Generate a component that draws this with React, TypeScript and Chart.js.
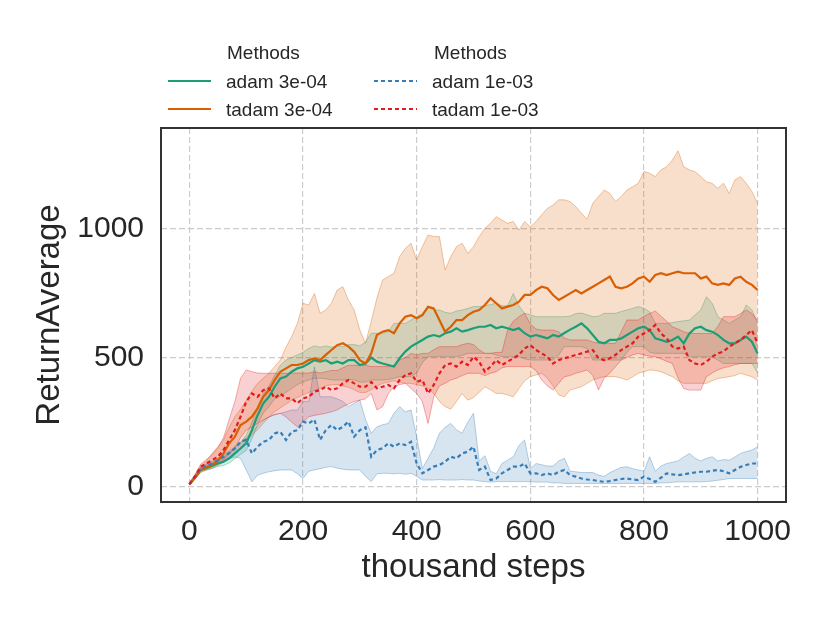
import { useEffect, useRef } from "react";
import { Chart, registerables } from "chart.js";

Chart.register(...registerables);

// thousand steps
const steps = [
  0, 10, 20, 30, 40, 50, 60, 70, 80, 90,
  100, 110, 120, 130, 140, 150, 160, 170, 180, 190,
  200, 210, 220, 230, 240, 250, 260, 270, 280, 290,
  300, 310, 320, 330, 340, 350, 360, 370, 380, 390,
  400, 410, 420, 430, 440, 450, 460, 470, 480, 490,
  500, 510, 520, 530, 540, 550, 560, 570, 580, 590,
  600, 610, 620, 630, 640, 650, 660, 670, 680, 690,
  700, 710, 720, 730, 740, 750, 760, 770, 780, 790,
  800, 810, 820, 830, 840, 850, 860, 870, 880, 890,
  900, 910, 920, 930, 940, 950, 960, 970, 980, 990,
  1000,
];

// adam 3e-04
const adam3Mean = [
  10, 36, 65, 72, 80, 90, 97, 110, 129, 148,
  168, 219, 277, 323, 348, 387, 419, 426, 445, 458,
  464, 477, 490, 484, 490, 477, 484, 477, 490, 490,
  471, 477, 500, 484, 477, 471, 465, 497, 523, 542,
  555, 568, 581, 587, 581, 594, 600, 613, 600, 606,
  613, 619, 619, 626, 613, 619, 613, 606, 613, 594,
  581, 587, 581, 574, 587, 581, 595, 608, 619, 632,
  613, 587, 561, 555, 568, 568, 574, 587, 600, 613,
  619, 606, 574, 568, 561, 568, 581, 555, 593, 613,
  619, 606, 600, 587, 568, 555, 555, 568, 581, 561,
  516,
];
const adam3Upper = [
  14, 42, 72, 82, 92, 105, 115, 130, 150, 172,
  200, 250, 310, 360, 390, 430, 470, 490, 500, 510,
  520, 535, 545, 540, 545, 540, 545, 542, 550, 550,
  545, 560, 594, 594, 594, 600, 632, 632, 632, 645,
  658, 670, 696, 684, 684, 675, 671, 680, 684, 690,
  697, 697, 700, 705, 710, 700, 700, 748, 700, 671,
  665, 658, 658, 658, 658, 658, 658, 660, 670, 672,
  665, 658, 660, 671, 671, 671, 678, 684, 690, 697,
  690, 677, 632, 632, 632, 635, 639, 642, 645, 665,
  684, 735, 710, 658, 645, 632, 645, 658, 703, 684,
  632,
];
const adam3Lower = [
  6, 30, 58, 64, 70, 78, 82, 92, 108, 125,
  140, 185, 240, 285, 310, 340, 350, 365, 380, 395,
  405, 413, 420, 420, 418, 413, 413, 413, 415, 413,
  405, 405, 413, 413, 413, 415, 420, 426, 426, 426,
  440, 480, 503, 503, 503, 503, 503, 503, 508, 516,
  516, 516, 516, 516, 510, 503, 503, 503, 503, 495,
  490, 490, 490, 490, 490, 510, 542, 542, 542, 542,
  535, 490, 490, 490, 490, 490, 490, 520, 542, 542,
  542, 520, 516, 516, 516, 516, 516, 516, 503, 503,
  503, 503, 503, 490, 477, 477, 477, 477, 477, 477,
  440,
];

// tadam 3e-04
const tadam3Mean = [
  10, 36, 65, 75, 84, 100, 129, 168, 194, 239,
  252, 271, 303, 348, 374, 413, 445, 458, 471, 471,
  477, 490, 497, 490, 510, 529, 548, 555, 542, 522,
  490, 477, 516, 587, 600, 606, 594, 632, 658, 664,
  652, 664, 696, 690, 645, 600, 619, 645, 645, 664,
  677, 684, 703, 729, 710, 690, 697, 703, 716, 742,
  742, 761, 774, 768, 742, 723, 735, 748, 761, 748,
  761, 774, 787, 800, 813, 774, 768, 774, 787, 806,
  813, 793, 819, 826, 819, 826, 832, 826, 826, 826,
  806, 813, 787, 781, 787, 781, 806, 813, 793, 781,
  761,
];
const tadam3Upper = [
  12, 45, 78, 100, 129, 155, 181, 230, 271, 300,
  335, 370, 400, 420, 439, 465, 490, 540, 581, 632,
  710, 703, 748, 671, 684, 710, 761, 774, 722, 684,
  606, 555, 640, 730, 800, 813, 826, 890, 922, 942,
  877, 929, 974, 968, 968, 839, 890, 929, 942, 903,
  929, 968, 1000, 1019, 1045, 1032, 1019, 1026, 993, 1026,
  1006, 1026, 1052, 1077, 1090, 1110, 1110, 1103, 1084, 1058,
  1035, 1097, 1123, 1148, 1135, 1103, 1123, 1148, 1161, 1174,
  1220, 1213, 1200, 1226, 1238, 1264, 1300, 1238, 1226, 1219,
  1200, 1180, 1174, 1155, 1174, 1135, 1187, 1200, 1174, 1142,
  1097,
];
const tadam3Lower = [
  6, 30, 55, 65, 72, 82, 95, 110, 125, 150,
  175, 200, 220, 245, 270, 290, 305, 320, 335, 345,
  355, 365, 372, 380, 390, 395, 395, 390, 385, 375,
  365, 365, 375, 390, 400, 405, 410, 405, 400, 400,
  395, 390, 380, 360, 330, 310, 300, 330, 360, 335,
  345, 365, 387, 375, 361, 361, 355, 348, 380, 410,
  426, 432, 439, 420, 390, 355, 348, 374, 380, 387,
  400, 413, 420, 426, 426, 426, 420, 413, 425, 439,
  445, 452, 450, 445, 435, 426, 410, 400, 400, 400,
  400, 400, 410, 419, 422, 426, 430, 439, 432, 426,
  413,
];

// adam 1e-03
const adam1Mean = [
  10, 40, 71, 80, 90, 103, 116, 130, 148, 174,
  181, 129, 155, 174, 181, 206, 213, 181, 213, 219,
  252, 245, 260, 181, 219, 239, 219, 232, 252, 194,
  219, 230, 116, 142, 149, 168, 155, 168, 161, 174,
  90, 52, 65, 78, 84, 97, 116, 110, 129, 136,
  155, 65, 78, 26, 32, 52, 65, 78, 78, 90,
  52, 52, 45, 52, 45, 58, 65, 45, 39, 32,
  28, 26, 22, 19, 22, 26, 30, 32, 28, 26,
  39, 30, 19, 35, 52, 48, 45, 48, 52, 55,
  58, 58, 62, 65, 60, 52, 65, 77, 84, 90,
  90,
];
const adam1Upper = [
  14, 45, 78, 88, 98, 110, 125, 138, 155, 170,
  190, 213, 235, 258, 270, 280, 284, 290, 297, 297,
  330, 330, 464, 348, 348, 348, 340, 330, 310, 323,
  335, 260, 207, 232, 240, 245, 284, 310, 290, 297,
  194, 70, 110, 150, 207, 230, 245, 220, 207, 250,
  284, 100, 120, 60, 50, 90, 103, 116, 160, 181,
  70, 90, 85, 80, 80, 100, 110, 60, 58, 55,
  55, 55, 45, 40, 55, 65, 75, 77, 70, 65,
  60, 116, 60, 80, 90, 95, 100, 115, 129, 110,
  100, 110, 116, 100, 105, 103, 115, 129, 136, 142,
  155,
];
const adam1Lower = [
  6, 32, 62, 72, 80, 90, 100, 108, 115, 110,
  65, 19, 45, 52, 58, 62, 65, 65, 65, 50,
  32, 60, 65, 70, 75, 78, 72, 68, 65, 65,
  65, 40, 20, 50, 52, 52, 50, 52, 48, 52,
  40, 26, 26, 26, 28, 26, 26, 26, 28, 26,
  26, 22, 20, 18, 20, 20, 20, 20, 20, 20,
  20, 18, 18, 18, 15, 15, 13, 13, 13, 13,
  13, 13, 13, 13, 13, 13, 13, 13, 13, 13,
  13, 13, 13, 15, 15, 17, 19, 19, 19, 19,
  19, 20, 22, 25, 28, 32, 32, 32, 32, 32,
  32,
];

// tadam 1e-03
const tadam1Mean = [
  10, 40, 78, 90, 103, 116, 142, 181, 219, 271,
  329, 361, 348, 374, 381, 342, 361, 342, 342, 323,
  342, 348, 368, 374, 387, 374, 381, 400, 413, 400,
  387, 387, 405, 381, 387, 394, 381, 413, 432, 439,
  406, 413, 361, 394, 439, 471, 477, 465, 484, 471,
  503, 484, 445, 465, 490, 471, 484, 497, 510, 535,
  548, 529, 516, 503, 477, 490, 497, 503, 510, 516,
  523, 529, 497, 490, 497, 510, 529, 542, 555, 581,
  593, 606, 626, 593, 574, 542, 535, 542, 490, 477,
  471, 484, 503, 516, 523, 542, 555, 568, 587, 606,
  555,
];
const tadam1Upper = [
  14, 48, 88, 105, 125, 150, 190, 260, 330, 420,
  452, 445, 440, 439, 439, 439, 439, 439, 439, 440,
  440, 440, 445, 440, 445, 450, 450, 460, 470, 470,
  470, 470, 465, 465, 465, 465, 470, 490, 500, 516,
  510, 516, 516, 530, 542, 542, 542, 542, 550, 555,
  550, 530, 516, 516, 520, 520, 606, 640, 658, 671,
  630, 610, 606, 606, 606, 600, 575, 568, 568, 568,
  568, 560, 555, 555, 555, 555, 600, 645, 645, 645,
  660, 670, 680, 660, 640, 619, 610, 600, 593, 593,
  593, 593, 593, 620, 658, 658, 658, 670, 684, 670,
  645,
];
const tadam1Lower = [
  6, 32, 62, 72, 80, 90, 105, 125, 150, 190,
  219, 230, 245, 258, 270, 278, 284, 270, 250, 232,
  250, 271, 276, 280, 284, 290, 297, 310, 320, 330,
  335, 340, 361, 297, 310, 360, 387, 395, 400, 380,
  361, 330, 245, 348, 390, 400, 413, 420, 430, 439,
  439, 439, 430, 439, 445, 460, 465, 465, 465, 465,
  465, 450, 413, 390, 374, 400, 426, 430, 439, 445,
  452, 430, 374, 420, 440, 465, 490, 500, 510, 516,
  510, 505, 503, 495, 485, 477, 420, 380, 374, 374,
  374, 426, 440, 452, 460, 465, 472, 477, 477, 477,
  477,
];

const xTicks = [0, 200, 400, 600, 800, 1000];
const yTicks = [0, 500, 1000];

const FONT = "'Liberation Sans', Arial, sans-serif";
const TEXT = "#262626";

const series = [
  { label: "tadam 1e-03", color: "228, 26, 28", mean: tadam1Mean, upper: tadam1Upper, lower: tadam1Lower, dash: [4, 3] },
  { label: "adam 1e-03", color: "55, 126, 184", mean: adam1Mean, upper: adam1Upper, lower: adam1Lower, dash: [4, 3] },
  { label: "tadam 3e-04", color: "217, 95, 2", mean: tadam3Mean, upper: tadam3Upper, lower: tadam3Lower, dash: [] },
  { label: "adam 3e-04", color: "27, 158, 119", mean: adam3Mean, upper: adam3Upper, lower: adam3Lower, dash: [] },
];

const pts = (vals: number[]) => steps.map((s, i) => ({ x: s, y: vals[i] }));

// axes frame + the two-column "Methods" legend above the plot
const frameAndLegend = {
  id: "frameAndLegend",
  afterDraw(chart: any) {
    const { ctx, chartArea: a } = chart;
    ctx.save();
    ctx.strokeStyle = "#333333";
    ctx.lineWidth = 2;
    ctx.strokeRect(a.left, a.top, a.right - a.left, a.bottom - a.top);

    ctx.font = `19px ${FONT}`;
    ctx.fillStyle = TEXT;
    ctx.textBaseline = "alphabetic";
    ctx.textAlign = "left";
    ctx.fillText("Methods", 227, 59);
    ctx.fillText("Methods", 434, 59);
    const items = [
      { label: "adam 3e-04", color: "27, 158, 119", dash: [], x: 168, y: 81 },
      { label: "tadam 3e-04", color: "217, 95, 2", dash: [], x: 168, y: 109 },
      { label: "adam 1e-03", color: "55, 126, 184", dash: [4, 3], x: 374, y: 81 },
      { label: "tadam 1e-03", color: "228, 26, 28", dash: [4, 3], x: 374, y: 109 },
    ];
    items.forEach((it) => {
      ctx.strokeStyle = `rgb(${it.color})`;
      ctx.lineWidth = 2;
      ctx.setLineDash(it.dash);
      ctx.beginPath();
      ctx.moveTo(it.x, it.y);
      ctx.lineTo(it.x + 43, it.y);
      ctx.stroke();
      ctx.setLineDash([]);
      ctx.fillText(it.label, it.x + 58, it.y + 7);
    });
    ctx.restore();
  },
};

const App = () => {
  const canvasRef = useRef<HTMLCanvasElement>(null);

  useEffect(() => {
    document.body.style.margin = "0";
    if (!canvasRef.current) return;

    const datasets: any[] = [];
    series.forEach((s) => {
      datasets.push({
        label: s.label,
        data: pts(s.mean),
        borderColor: `rgb(${s.color})`,
        borderWidth: 2.2,
        borderDash: s.dash,
        pointRadius: 0,
        fill: false,
        order: 0,
      });
      datasets.push({
        label: s.label + " upper",
        data: pts(s.upper),
        borderColor: `rgba(${s.color}, 0.35)`,
        borderWidth: 1,
        backgroundColor: `rgba(${s.color}, 0.2)`,
        pointRadius: 0,
        fill: "+1",
        order: 1,
      });
      datasets.push({
        label: s.label + " lower",
        data: pts(s.lower),
        borderColor: `rgba(${s.color}, 0.35)`,
        borderWidth: 1,
        pointRadius: 0,
        fill: false,
        order: 1,
      });
    });

    const chart = new Chart(canvasRef.current, {
      type: "line",
      data: { datasets },
      options: {
        responsive: false,
        animation: false,
        devicePixelRatio: 1,
        layout: { padding: { left: 0, top: 128, right: 44, bottom: 0 } },
        elements: { line: { tension: 0 } },
        plugins: { legend: { display: false }, tooltip: { enabled: false } },
        scales: {
          x: {
            type: "linear",
            min: -50,
            max: 1050,
            afterFit: (scale: any) => {
              scale.height = 121;
            },
            afterBuildTicks: (scale: any) => {
              scale.ticks = xTicks.map((v) => ({ value: v }));
            },
            grid: { color: "#cccccc", lineWidth: 1.2, drawTicks: false },
            border: { display: false, dash: [6, 3] },
            ticks: {
              color: TEXT,
              font: { family: FONT, size: 30 },
              padding: 12,
              maxRotation: 0,
              callback: (v: any) => String(v),
            },
            title: {
              display: true,
              text: "thousand steps",
              color: TEXT,
              font: { family: FONT, size: 33 },
              padding: { top: 0, bottom: 35 },
            },
          },
          y: {
            type: "linear",
            min: -59,
            max: 1388,
            afterFit: (scale: any) => {
              scale.width = 161;
            },
            afterBuildTicks: (scale: any) => {
              scale.ticks = yTicks.map((v) => ({ value: v }));
            },
            grid: { color: "#cccccc", lineWidth: 1.2, drawTicks: false },
            border: { display: false, dash: [6, 3] },
            ticks: {
              color: TEXT,
              font: { family: FONT, size: 30 },
              padding: 17,
              callback: (v: any) => String(v),
            },
            title: {
              display: true,
              text: "ReturnAverage",
              color: TEXT,
              font: { family: FONT, size: 33 },
              padding: { top: 30, bottom: 0 },
            },
          },
        },
      },
      plugins: [frameAndLegend],
    });

    return () => chart.destroy();
  }, []);

  return (
    <div style={{ width: 830, height: 623, background: "#fff" }}>
      <canvas ref={canvasRef} width={830} height={623} style={{ display: "block" }}></canvas>
    </div>
  );
};

export default App;
